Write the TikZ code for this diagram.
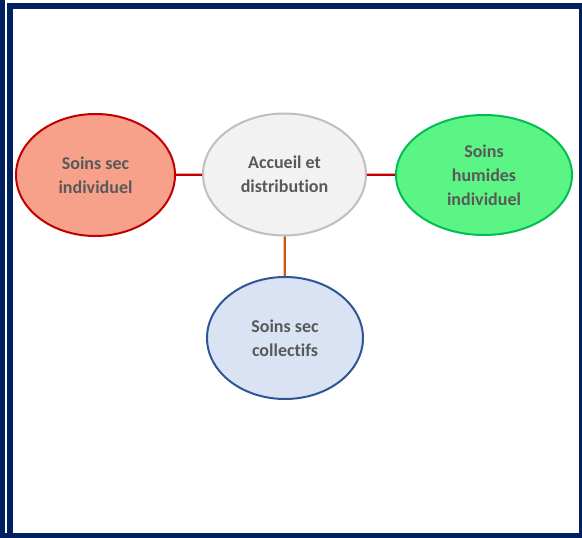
\documentclass[tikz,border=0pt]{standalone}
\usepackage{fontspec}
\setmainfont{Carlito}[RawFeature={-liga;-dlig}]
\usetikzlibrary{shapes.geometric}
\definecolor{navy}{HTML}{002060}
\definecolor{txtgrey}{HTML}{595959}
\begin{document}
\begin{tikzpicture}[x=1pt,y=-1pt,
  bubble/.style={ellipse, draw, line width=2pt, inner sep=0pt,
    align=center, text=txtgrey,
    font=\fontsize{18}{24}\selectfont\bfseries},
  link/.style={line width=2.2pt}]
\useasboundingbox (0,0) rectangle (582,538);
\fill[white] (0,0) rectangle (582,538);
% frame
\fill[navy] (0,0) rectangle (5,538);
\draw[navy, line width=6pt] (10,6) rectangle (582,535.5);
\fill[navy] (0,533) rectangle (582,538);
% bubbles
\node[bubble, fill={rgb,255:red,247;green,161;blue,138}, draw={rgb,255:red,192;green,0;blue,0},
  minimum width=159pt, minimum height=122pt] (sec) at (95.5,175) {Soins sec\\individuel};
\node[bubble, fill={rgb,255:red,242;green,242;blue,242}, draw={rgb,255:red,191;green,191;blue,191},
  minimum width=163pt, minimum height=122pt] (acc) at (284.5,174.5) {Accueil et\\distribution};
\node[bubble, fill={rgb,255:red,91;green,245;blue,133}, draw={rgb,255:red,0;green,190;blue,80},
  minimum width=176pt, minimum height=120pt] (hum) at (484,175) {Soins\\humides\\individuel};
\node[bubble, fill={rgb,255:red,218;green,227;blue,243}, draw={rgb,255:red,47;green,85;blue,151},
  minimum width=156pt, minimum height=122pt] (col) at (285,338) {Soins sec\\collectifs};
% connectors
\draw[link, draw={rgb,255:red,192;green,0;blue,0}] (sec) -- (acc);
\draw[link, draw={rgb,255:red,192;green,0;blue,0}] (acc) -- (hum);
\draw[link, draw={rgb,255:red,197;green,90;blue,17}] (acc) -- (col);
\end{tikzpicture}
\end{document}
